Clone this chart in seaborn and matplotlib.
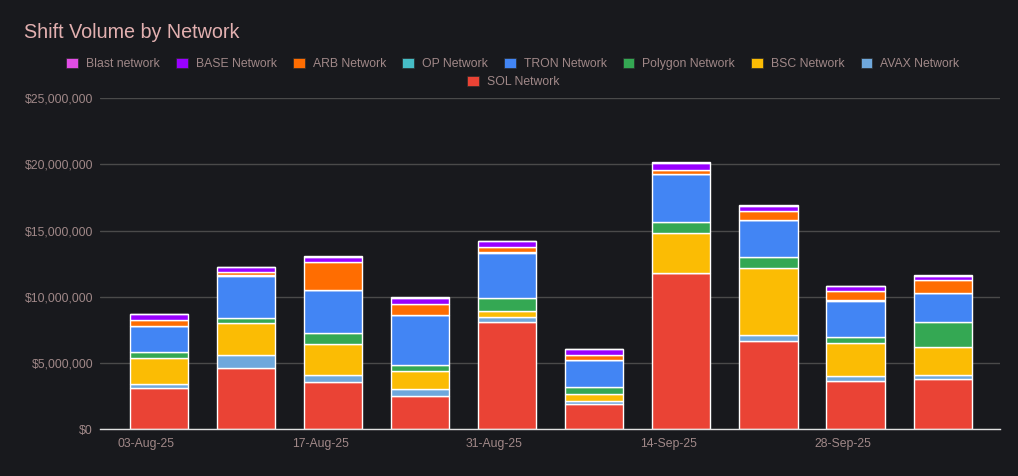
import matplotlib
matplotlib.use("Agg")
import matplotlib.pyplot as plt
import matplotlib.ticker as mticker
from matplotlib.patches import Patch
import pandas as pd
import seaborn as sns

# weekly shift volume, $ millions
weeks = ["03-Aug-25", "10-Aug-25", "17-Aug-25", "24-Aug-25", "31-Aug-25",
         "07-Sep-25", "14-Sep-25", "21-Sep-25", "28-Sep-25", "05-Oct-25"]
blast = [0.03, 0.03, 0.03, 0.03, 0.03, 0.03, 0.03, 0.03, 0.03, 0.10]
base = [0.40, 0.40, 0.35, 0.45, 0.46, 0.40, 0.55, 0.40, 0.40, 0.33]
arb = [0.46, 0.23, 2.15, 0.88, 0.38, 0.38, 0.31, 0.66, 0.68, 0.91]
op = [0.02, 0.02, 0.03, 0.02, 0.02, 0.02, 0.02, 0.02, 0.02, 0.02]
tron = [1.97, 3.18, 3.21, 3.74, 3.41, 2.02, 3.63, 2.75, 2.73, 2.19]
polygon = [0.45, 0.38, 0.83, 0.46, 0.98, 0.53, 0.76, 0.83, 0.45, 1.92]
bsc = [1.97, 2.42, 2.35, 1.38, 0.48, 0.56, 3.03, 5.08, 2.53, 2.10]
avax = [0.30, 0.99, 0.53, 0.51, 0.35, 0.23, 0.05, 0.48, 0.38, 0.33]
sol = [3.11, 4.62, 3.56, 2.50, 8.11, 1.89, 11.77, 6.64, 3.61, 3.76]

networks = ["Blast network", "BASE Network", "ARB Network", "OP Network", "TRON Network",
            "Polygon Network", "BSC Network", "AVAX Network", "SOL Network"]
series = [blast, base, arb, op, tron, polygon, bsc, avax, sol]
colors = ["#e24de6", "#9900ff", "#ff6d01", "#46bdc6", "#4285f4",
          "#34a853", "#fbbc04", "#6fa8dc", "#ea4335"]

BG = "#18191d"
TXT = "#a08888"

rows = []
for name, vals in zip(networks, series):
    for i, v in enumerate(vals):
        rows.append({"week": i, "network": name, "volume": v * 1e6})
df = pd.DataFrame(rows)

sns.set_theme(style="dark")
plt.rcParams["font.family"] = ["Liberation Sans", "DejaVu Sans"]

fig = plt.figure(figsize=(10.18, 4.76), dpi=100, facecolor=BG)
ax = fig.add_axes([100 / 1018, 1 - 429.3 / 476, 900 / 1018, 331.3 / 476])
ax.set_facecolor(BG)

# later hue levels are stacked lower, so SOL sits at the bottom
sns.histplot(data=df, x="week", weights="volume", hue="network", hue_order=networks,
             palette=dict(zip(networks, colors)), multiple="stack", discrete=True,
             shrink=0.667, alpha=1, edgecolor="white", linewidth=1, legend=False, ax=ax)

ax.set_xlim(-0.68, 9.66)
ax.set_ylim(0, 25e6)
ax.set_yticks([0, 5e6, 10e6, 15e6, 20e6, 25e6])
ax.yaxis.set_major_formatter(mticker.FuncFormatter(lambda v, p: f"${v:,.0f}"))
ax.set_xticks([i - 0.15 for i in range(0, len(weeks), 2)])
ax.set_xticklabels(weeks[::2])
ax.tick_params(axis="both", colors=TXT, labelsize=8.8, length=0)
ax.tick_params(axis="y", pad=5)
ax.tick_params(axis="x", pad=6)
ax.set_xlabel("")
ax.set_ylabel("")
ax.grid(axis="y", color="#4a4a4a", linewidth=1)
ax.grid(axis="x", visible=False)
ax.set_axisbelow(True)
for s in ["top", "right", "left"]:
    ax.spines[s].set_visible(False)
ax.spines["bottom"].set_color("#e0e0e0")
ax.spines["bottom"].set_linewidth(1)

fig.text(24 / 1018, 1 - 38 / 476, "Shift Volume by Network", fontsize=14.2,
         color="#e2b0b0", va="baseline", ha="left")

handles = [Patch(facecolor=c, edgecolor="#2a2a2a", linewidth=0.5, label=n)
           for n, c in zip(networks, colors)]
leg_kw = dict(frameon=False, fontsize=8.8, handlelength=0.98, handleheight=0.98,
              handletextpad=0.65, columnspacing=1.3, labelcolor=TXT, loc="center",
              borderaxespad=0, borderpad=0)
fig.legend(handles=handles[:8], ncol=8, bbox_to_anchor=(513 / 1018, 1 - 64 / 476), **leg_kw)
fig.legend(handles=handles[8:], ncol=1, bbox_to_anchor=(513 / 1018, 1 - 82 / 476), **leg_kw)

fig.savefig("out.png", dpi=100, facecolor=BG)
